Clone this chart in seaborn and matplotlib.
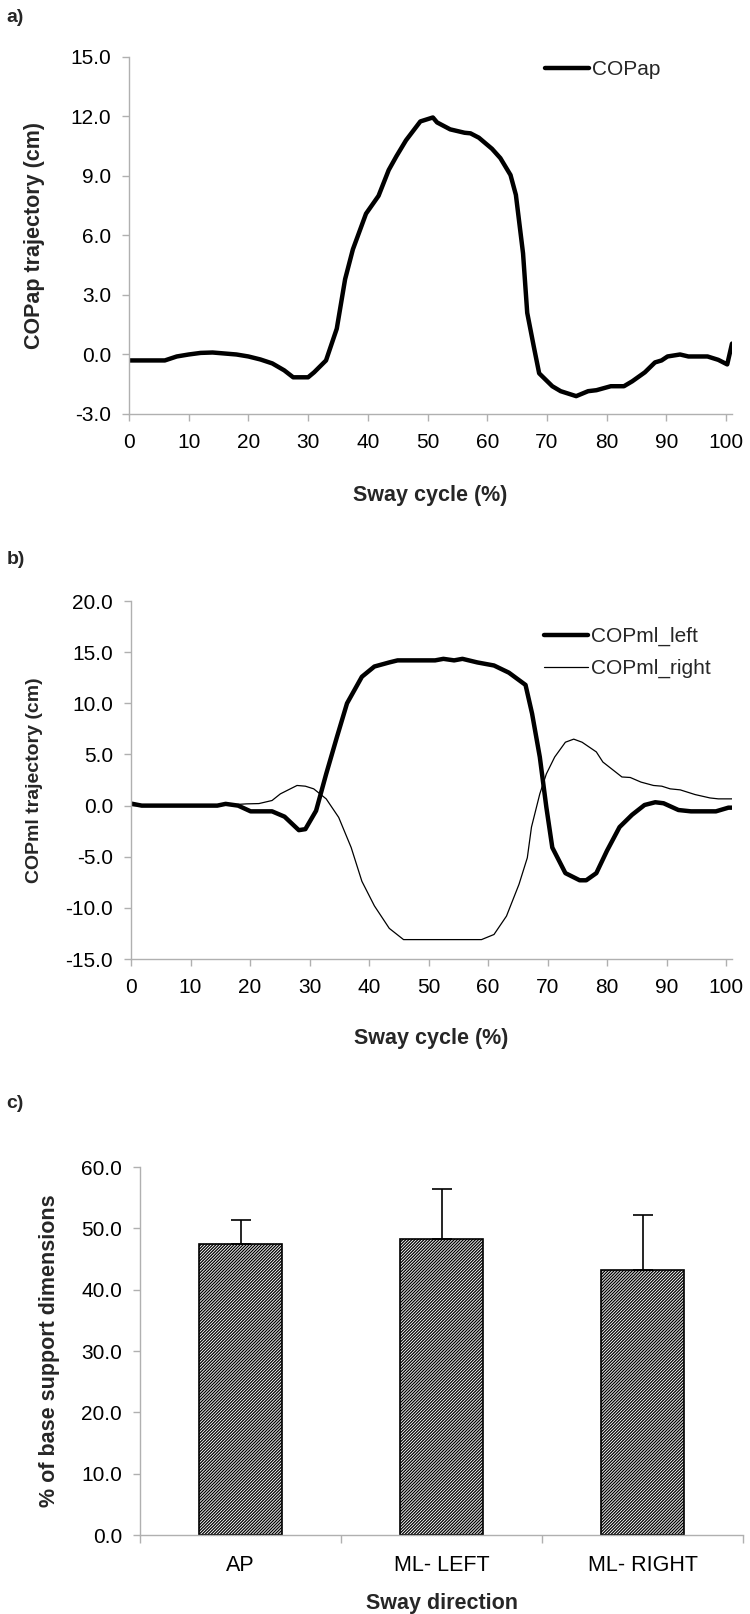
import numpy as np
import pandas as pd
import matplotlib
matplotlib.use("Agg")
import matplotlib.pyplot as plt
import seaborn as sns
from matplotlib.ticker import FormatStrFormatter, MultipleLocator

# panel a - COPap trajectory over the sway cycle
ap_x = [0, 2, 4, 6, 8, 10, 12, 14, 16, 18, 20, 22, 24, 26, 27.5, 30, 31, 33,
        34.8, 36.2, 37.5, 39.7, 41.8, 43.5, 44.8, 46.4, 48.8, 50.9, 51.6, 53.8,
        56.2, 57.2, 58.6, 60.8, 62.2, 63.9, 64.8, 66.0, 66.7, 67.8, 68.7, 70.9,
        72.3, 74.9, 76.9, 78.3, 80.7, 82.9, 84.3, 86.4, 88.1, 89.2, 90.2, 92.3,
        93.7, 96.9, 98.7, 100.2, 101]
ap_y = [-0.3, -0.3, -0.3, -0.3, -0.1, 0.0, 0.08, 0.1, 0.05, 0.0, -0.1, -0.25,
        -0.45, -0.8, -1.15, -1.15, -0.9, -0.3, 1.3, 3.8, 5.3, 7.1, 8.0, 9.3,
        10.0, 10.8, 11.75, 11.95, 11.7, 11.35, 11.18, 11.15, 10.93, 10.37, 9.9,
        9.05, 8.05, 5.1, 2.1, 0.4, -0.95, -1.6, -1.85, -2.1, -1.85, -1.8, -1.6,
        -1.6, -1.35, -0.9, -0.4, -0.3, -0.1, 0.0, -0.1, -0.1, -0.27, -0.5, 0.55]

# panel b - COPml trajectories
left_x = [0, 1.8, 14.5, 15.9, 18.0, 20.1, 23.7, 25.8, 28.2, 29.3, 31.1, 32.8,
          34.6, 36.3, 38.8, 40.9, 43.4, 44.8, 51.1, 52.5, 54.3, 55.7, 58.2,
          61.0, 63.5, 66.3, 67.4, 68.7, 69.8, 70.8, 73.0, 75.4, 76.5, 78.2,
          80.0, 82.1, 84.2, 86.3, 88.1, 89.5, 92.0, 94.1, 98.3, 100.4, 101]
left_y = [0.2, 0.0, 0.0, 0.17, 0.0, -0.56, -0.56, -1.08, -2.4, -2.3, -0.5, 3.1,
          6.7, 10.0, 12.6, 13.6, 14.0, 14.2, 14.2, 14.35, 14.2, 14.35, 14.0,
          13.7, 13.0, 11.8, 9.0, 4.75, -0.16, -4.1, -6.6, -7.3, -7.3, -6.6,
          -4.4, -2.1, -0.9, 0.06, 0.33, 0.23, -0.43, -0.56, -0.56, -0.2, -0.2]

right_x = [0, 14.5, 19.4, 21.5, 23.7, 25.1, 27.9, 29.3, 30.7, 32.8, 34.9, 37.0,
           38.8, 40.9, 43.4, 45.8, 58.9, 61.0, 63.1, 65.2, 66.6, 67.3, 68.7,
           69.8, 71.2, 73.0, 74.4, 75.8, 78.2, 79.3, 81.1, 82.5, 83.9, 85.7,
           87.8, 89.2, 90.6, 92.3, 94.8, 97.3, 98.7, 101]
right_y = [0.0, 0.0, 0.17, 0.2, 0.5, 1.15, 1.97, 1.9, 1.64, 0.66, -1.15, -4.1,
           -7.4, -9.8, -12.0, -13.1, -13.1, -12.6, -10.8, -7.7, -5.1, -2.1,
           1.15, 3.1, 4.75, 6.2, 6.5, 6.2, 5.25, 4.26, 3.44, 2.8, 2.75, 2.3,
           1.97, 1.9, 1.64, 1.54, 1.08, 0.75, 0.66, 0.66]

# panel c - sway amplitude as % of base of support
directions = ["AP", "ML- LEFT", "ML- RIGHT"]
pct_mean = [47.5, 48.3, 43.2]
pct_sd = [3.8, 8.2, 9.0]

sns.set_theme(style="ticks")
plt.rcParams["font.family"] = ["Liberation Sans", "DejaVu Sans"]
plt.rcParams["axes.unicode_minus"] = False
plt.rcParams["hatch.linewidth"] = 0.9
plt.rcParams["hatch.color"] = "black"

AXC = "#b0b0b0"
TICK_FS = 15
LAB_FS = 15.5


def style_axes(ax):
    sns.despine(ax=ax)
    for s in ["left", "bottom"]:
        ax.spines[s].set_color(AXC)
        ax.spines[s].set_linewidth(1.0)
    ax.tick_params(direction="out", length=5, width=1.0, color=AXC,
                   labelsize=TICK_FS, labelcolor="black")
    ax.tick_params(axis="y", pad=8)
    ax.tick_params(axis="x", pad=9)


fig = plt.figure(figsize=(7.5, 16.14), dpi=100)
ax_a = fig.add_axes([0.172, 0.7435, 0.804, 0.2212])
ax_b = fig.add_axes([0.1747, 0.4058, 0.8013, 0.2218])
ax_c = fig.add_axes([0.1867, 0.0489, 0.804, 0.2280])

# a)
df_a = pd.DataFrame({"cycle": ap_x, "copap": ap_y})
sns.lineplot(data=df_a, x="cycle", y="copap", ax=ax_a, color="black",
             linewidth=3.2, sort=False, estimator=None, label="COPap")
ax_a.set_xlim(0, 101)
ax_a.set_ylim(-3, 15)
ax_a.xaxis.set_major_locator(MultipleLocator(10))
ax_a.yaxis.set_major_locator(MultipleLocator(3))
ax_a.yaxis.set_major_formatter(FormatStrFormatter("%.1f"))
style_axes(ax_a)
ax_a.set_xlabel("Sway cycle (%)", fontsize=LAB_FS, fontweight="bold")
ax_a.set_ylabel("COPap trajectory (cm)", fontsize=15.5, fontweight="bold")
ax_a.xaxis.set_label_coords(0.5, -0.199)
ax_a.yaxis.set_label_coords(-0.139, 0.5)
ax_a.legend(loc="center left", bbox_to_anchor=(0.69, 0.964), frameon=False,
            fontsize=15, handlelength=2.1, handletextpad=0.15, borderpad=0,
            borderaxespad=0)

# b)
df_l = pd.DataFrame({"cycle": left_x, "copml": left_y})
df_r = pd.DataFrame({"cycle": right_x, "copml": right_y})
sns.lineplot(data=df_l, x="cycle", y="copml", ax=ax_b, color="black",
             linewidth=3.2, sort=False, estimator=None, label="COPml_left")
sns.lineplot(data=df_r, x="cycle", y="copml", ax=ax_b, color="black",
             linewidth=0.9, sort=False, estimator=None, label="COPml_right")
ax_b.set_xlim(0, 101)
ax_b.set_ylim(-15, 20)
ax_b.xaxis.set_major_locator(MultipleLocator(10))
ax_b.yaxis.set_major_locator(MultipleLocator(5))
ax_b.yaxis.set_major_formatter(FormatStrFormatter("%.1f"))
style_axes(ax_b)
ax_b.set_xlabel("Sway cycle (%)", fontsize=LAB_FS, fontweight="bold")
ax_b.set_ylabel("COPml trajectory (cm)", fontsize=14, fontweight="bold")
ax_b.xaxis.set_label_coords(0.5, -0.193)
ax_b.yaxis.set_label_coords(-0.146, 0.5)
ax_b.legend(loc="center left", bbox_to_anchor=(0.687, 0.856), frameon=False,
            fontsize=15, handlelength=2.1, handletextpad=0.15, borderpad=0,
            borderaxespad=0, labelspacing=0.6)

# c)
df_c = pd.DataFrame({"direction": directions, "pct": pct_mean})
sns.barplot(data=df_c, x="direction", y="pct", ax=ax_c, color="white",
            edgecolor="black", linewidth=1.2, width=0.41, hatch="/" * 11)
for p in ax_c.patches:
    p.set_facecolor("white")
    p.set_edgecolor("black")
ax_c.errorbar(x=np.arange(len(directions)), y=pct_mean,
              yerr=[np.zeros(len(pct_sd)), pct_sd], fmt="none",
              ecolor="black", elinewidth=1.2, capsize=7, capthick=1.2)
ax_c.set_xlim(-0.5, 2.5)
ax_c.set_ylim(0, 60)
ax_c.yaxis.set_major_locator(MultipleLocator(10))
ax_c.yaxis.set_major_formatter(FormatStrFormatter("%.1f"))
style_axes(ax_c)
ax_c.set_xticks([-0.5, 0.5, 1.5, 2.5], minor=True)
ax_c.tick_params(axis="x", which="major", length=0, pad=14, labelsize=15.5)
ax_c.tick_params(axis="x", which="minor", length=6, width=1.0, color=AXC)
ax_c.set_xlabel("Sway direction", fontsize=LAB_FS, fontweight="bold")
ax_c.set_ylabel("% of base support dimensions", fontsize=15.5,
                fontweight="bold")
ax_c.xaxis.set_label_coords(0.5, -0.158)
ax_c.yaxis.set_label_coords(-0.133, 0.5)

fig.text(0.009, 1 - 18 / 1614, "a)", fontsize=14, fontweight="bold",
         va="center", ha="left")
fig.text(0.009, 1 - 560 / 1614, "b)", fontsize=14, fontweight="bold",
         va="center", ha="left")
fig.text(0.009, 1 - 1104 / 1614, "c)", fontsize=14, fontweight="bold",
         va="center", ha="left")

fig.savefig("out.png", dpi=100)
